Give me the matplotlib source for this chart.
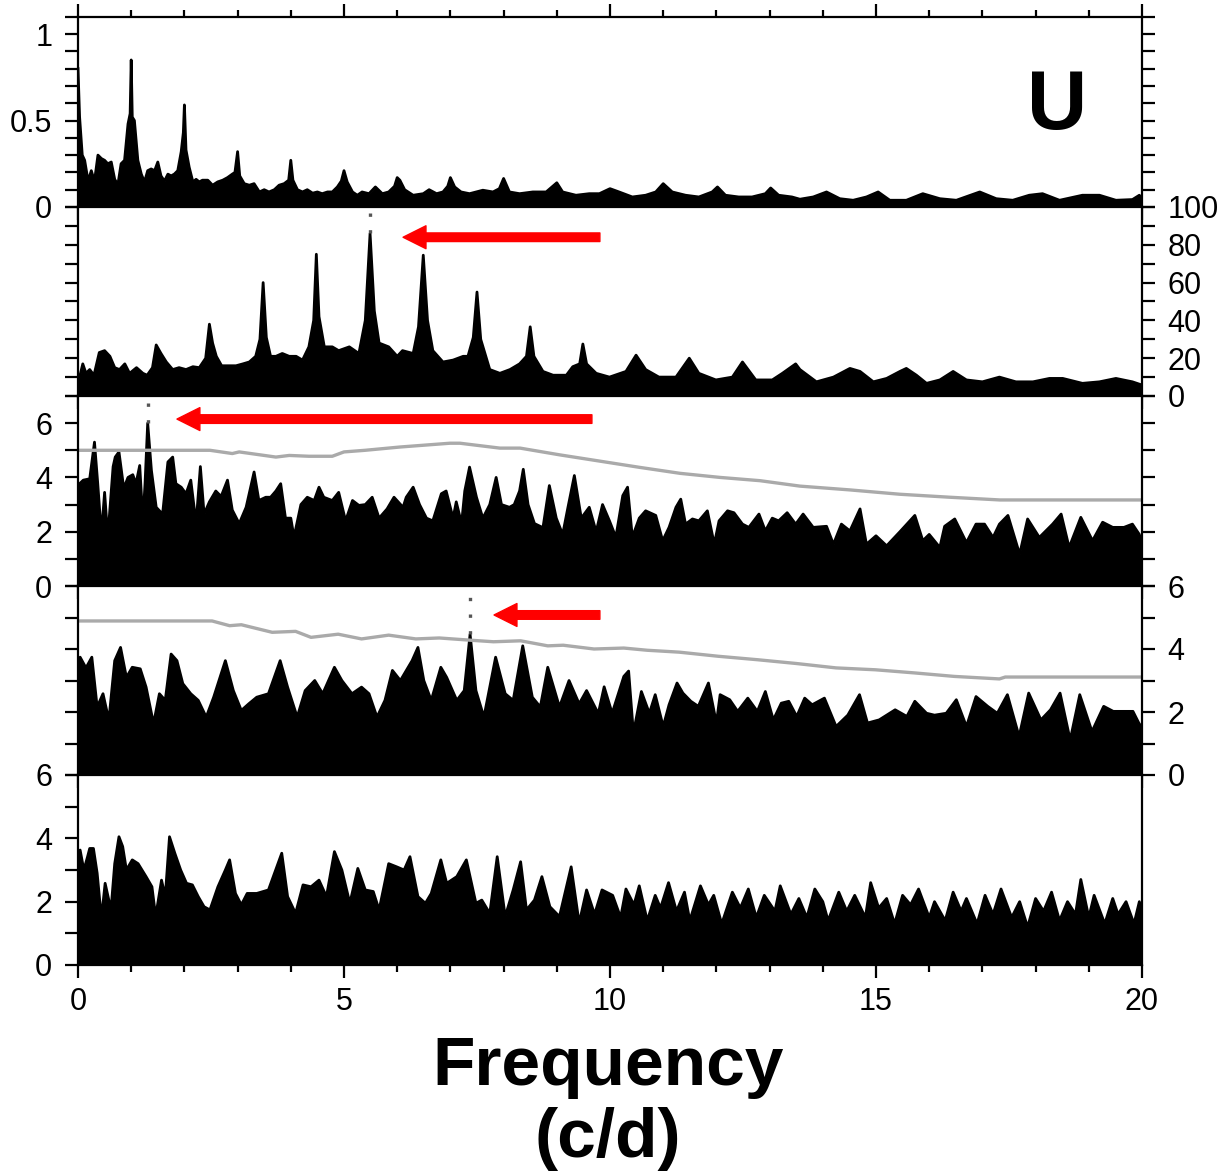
import numpy as np
import matplotlib
matplotlib.use('Agg')
import matplotlib.pyplot as plt
from matplotlib.ticker import MultipleLocator, FixedLocator, FixedFormatter

plt.rcParams['font.family'] = ['Liberation Sans', 'DejaVu Sans']

# ---- data (frequency in c/d, power) ----
p1_freq = [0.0, 0.03, 0.08, 0.125, 0.19, 0.25, 0.31, 0.375, 0.44, 0.5, 0.56, 0.625, 0.69, 0.75, 0.81, 0.875,
           0.94, 0.98, 1.0, 1.02, 1.06, 1.125, 1.19, 1.25, 1.31, 1.375, 1.44, 1.5, 1.56, 1.625, 1.69, 1.75,
           1.81, 1.875, 1.94, 1.98, 2.0, 2.03, 2.09, 2.16, 2.22, 2.28, 2.34, 2.44, 2.53, 2.625, 2.72, 2.81,
           2.9, 2.95, 3.0, 3.04, 3.125, 3.22, 3.31, 3.41, 3.5, 3.59, 3.69, 3.78, 3.875, 3.96, 4.0, 4.04,
           4.125, 4.22, 4.31, 4.41, 4.5, 4.59, 4.69, 4.78, 4.875, 4.95, 5.0, 5.06, 5.16, 5.25, 5.34, 5.47,
           5.59, 5.72, 5.84, 5.95, 6.0, 6.05, 6.14, 6.3, 6.49, 6.6, 6.74, 6.86, 6.95, 7.0, 7.08, 7.2,
           7.36, 7.61, 7.8, 7.92, 8.0, 8.11, 8.3, 8.55, 8.8, 9.0, 9.11, 9.36, 9.61, 9.8, 10.0, 10.17,
           10.42, 10.67, 10.86, 11.0, 11.17, 11.42, 11.67, 11.92, 12.02, 12.17, 12.42, 12.67, 12.92, 13.02,
           13.17, 13.42, 13.57, 13.82, 14.07, 14.32, 14.57, 14.82, 15.04, 15.26, 15.57, 15.88, 16.2, 16.51,
           16.95, 17.26, 17.57, 17.88, 18.13, 18.45, 18.88, 19.2, 19.51, 19.82, 19.95, 20.0]
p1_pow = [0.8, 0.52, 0.3, 0.27, 0.15, 0.21, 0.15, 0.3, 0.28, 0.27, 0.25, 0.26, 0.16, 0.13, 0.25, 0.27,
          0.48, 0.54, 0.85, 0.52, 0.5, 0.27, 0.19, 0.145, 0.21, 0.22, 0.21, 0.26, 0.18, 0.15, 0.19, 0.18,
          0.19, 0.21, 0.32, 0.43, 0.59, 0.33, 0.23, 0.145, 0.16, 0.145, 0.155, 0.155, 0.126, 0.145, 0.155, 0.17,
          0.19, 0.2, 0.32, 0.18, 0.135, 0.126, 0.135, 0.087, 0.1, 0.087, 0.1, 0.126, 0.135, 0.155, 0.27, 0.155,
          0.1, 0.087, 0.1, 0.08, 0.087, 0.077, 0.087, 0.087, 0.116, 0.15, 0.21, 0.145, 0.087, 0.068, 0.087, 0.077,
          0.116, 0.077, 0.087, 0.12, 0.17, 0.155, 0.1, 0.068, 0.077, 0.1, 0.077, 0.087, 0.12, 0.17, 0.116, 0.087,
          0.077, 0.097, 0.087, 0.106, 0.165, 0.087, 0.077, 0.087, 0.087, 0.14, 0.087, 0.068, 0.077, 0.077, 0.106, 0.087,
          0.058, 0.068, 0.087, 0.135, 0.087, 0.068, 0.058, 0.087, 0.116, 0.068, 0.058, 0.058, 0.077, 0.11,
          0.068, 0.058, 0.045, 0.058, 0.087, 0.048, 0.039, 0.058, 0.087, 0.039, 0.039, 0.077, 0.048, 0.039,
          0.087, 0.048, 0.039, 0.068, 0.077, 0.039, 0.068, 0.068, 0.039, 0.043, 0.068, 0.05]

p2_freq = [0.0, 0.03, 0.09, 0.15, 0.22, 0.3, 0.4, 0.5, 0.6, 0.69, 0.78, 0.88, 0.97, 1.1, 1.22, 1.3, 1.4,
           1.47, 1.56, 1.66, 1.78, 1.9, 2.03, 2.16, 2.28, 2.4, 2.47, 2.53, 2.6, 2.7, 2.84, 2.97, 3.1, 3.22,
           3.34, 3.42, 3.48, 3.54, 3.62, 3.72, 3.84, 3.97, 4.1, 4.22, 4.34, 4.43, 4.48, 4.53, 4.63, 4.78,
           4.9, 5.1, 5.28, 5.4, 5.49, 5.57, 5.66, 5.84, 6.0, 6.1, 6.3, 6.4, 6.49, 6.57, 6.67, 6.86, 7.05,
           7.24, 7.33, 7.43, 7.5, 7.57, 7.74, 7.93, 8.12, 8.3, 8.43, 8.5, 8.57, 8.74, 8.93, 9.18, 9.3, 9.43,
           9.49, 9.56, 9.74, 9.99, 10.3, 10.49, 10.67, 10.92, 11.24, 11.49, 11.67, 11.99, 12.3, 12.49, 12.74,
           13.05, 13.24, 13.49, 13.57, 13.88, 14.2, 14.51, 14.7, 14.95, 15.2, 15.45, 15.57, 15.76, 15.95,
           16.2, 16.45, 16.7, 17.0, 17.32, 17.63, 17.95, 18.26, 18.51, 18.88, 19.2, 19.51, 19.82, 20.0]
p2_pow = [5, 10, 17, 12, 14, 11, 23, 24, 21, 15, 14, 17, 12, 15, 12, 11, 15,
          27, 22.5, 18, 14, 15, 14, 15.5, 15, 20, 38, 28, 21, 16, 16, 16, 17, 18,
          21, 30, 60, 31, 21, 21, 22.5, 21, 21, 19, 26, 40, 75, 42, 26, 26,
          24, 26, 22.5, 40, 86, 45, 28, 26, 21, 24, 22.5, 36.6, 74.5, 40, 24, 18, 19,
          21, 21, 31, 55, 30, 14, 12, 14, 17, 21, 36.6, 21, 13, 11, 11, 15.5, 17,
          27.5, 17, 12, 10, 13, 21.6, 14, 10, 10, 20, 12, 8.5, 10, 18, 8.5,
          8.5, 12, 17, 14, 7.5, 10, 14.6, 13, 7.5, 9.3, 13, 14.6, 11, 6.7,
          8.5, 13, 8.5, 7.5, 10, 7.5, 7.5, 9.3, 9.3, 6.7, 7.5, 9.3, 7.5, 5.8]

p3_freq = [0.0, 0.03, 0.1, 0.22, 0.31, 0.37, 0.44, 0.5, 0.56, 0.66, 0.7, 0.77, 0.86, 0.94, 1.03, 1.09,
           1.16, 1.22, 1.26, 1.31, 1.38, 1.47, 1.59, 1.69, 1.78, 1.84, 1.94, 2.03, 2.12, 2.22, 2.3, 2.37,
           2.47, 2.59, 2.69, 2.81, 2.9, 3.03, 3.16, 3.31, 3.4, 3.53, 3.62, 3.72, 3.81, 3.9, 4.0, 4.06,
           4.19, 4.31, 4.44, 4.53, 4.62, 4.78, 4.9, 5.03, 5.16, 5.28, 5.4, 5.53, 5.66, 5.81, 5.94, 6.11,
           6.17, 6.3, 6.42, 6.55, 6.67, 6.83, 6.92, 7.05, 7.11, 7.21, 7.27, 7.36, 7.49, 7.61, 7.74, 7.86,
           7.96, 8.11, 8.2, 8.3, 8.37, 8.46, 8.58, 8.74, 8.86, 8.99, 9.11, 9.21, 9.33, 9.46, 9.61, 9.74,
           9.86, 9.99, 10.11, 10.24, 10.33, 10.42, 10.55, 10.67, 10.86, 10.99, 11.11, 11.24, 11.33, 11.42,
           11.55, 11.67, 11.83, 11.96, 12.05, 12.21, 12.33, 12.49, 12.61, 12.8, 12.92, 13.05, 13.17, 13.33,
           13.49, 13.63, 13.82, 14.07, 14.2, 14.35, 14.51, 14.7, 14.82, 15.0, 15.2, 15.45, 15.73, 15.88,
           16.0, 16.2, 16.29, 16.48, 16.7, 16.88, 17.04, 17.2, 17.32, 17.48, 17.7, 17.85, 18.07, 18.32,
           18.48, 18.63, 18.85, 19.07, 19.26, 19.45, 19.66, 19.82, 19.95, 20.0]
p3_pow = [3.0, 3.77, 3.9, 3.95, 5.3, 3.8, 1.9, 3.45, 1.8, 4.4, 4.75, 4.94, 3.6, 4.0, 4.1, 3.77,
          4.44, 2.4, 3.77, 6.0, 4.26, 2.9, 2.65, 4.57, 4.75, 3.77, 3.64, 3.4, 3.9, 2.3, 4.4, 2.65,
          3.1, 3.5, 3.3, 3.9, 2.8, 2.3, 2.9, 4.2, 3.15, 3.27, 3.27, 3.5, 3.77, 2.5, 2.5, 1.8,
          3.0, 3.27, 3.15, 3.64, 3.27, 3.15, 3.45, 2.4, 3.15, 2.97, 3.0, 3.27, 2.5, 2.84, 3.27, 2.9,
          3.27, 3.64, 3.0, 2.5, 2.4, 3.4, 3.5, 2.5, 3.1, 2.3, 3.5, 4.38, 3.27, 2.5, 3.0, 4.0,
          3.0, 2.9, 3.0, 3.5, 4.3, 3.0, 2.3, 2.15, 3.7, 2.5, 1.9, 2.9, 4.07, 2.5, 2.9, 2.0,
          3.0, 2.4, 1.8, 3.33, 3.64, 1.8, 2.5, 2.77, 2.6, 1.67, 2.16, 2.9, 3.2, 2.28,
          2.47, 2.4, 2.77, 1.54, 2.4, 2.77, 2.7, 2.28, 2.16, 2.65, 2.03, 2.5, 2.4, 2.7,
          2.28, 2.65, 2.16, 2.2, 1.54, 2.28, 2.03, 2.84, 1.54, 1.85, 1.48, 2.0, 2.6, 1.67,
          1.9, 1.42, 2.2, 2.47, 1.6, 2.28, 2.28, 1.79, 2.28, 2.6, 1.17, 2.47, 1.79, 2.28,
          2.65, 1.42, 2.53, 1.67, 2.35, 2.16, 2.16, 2.28, 1.9, 1.5]

p4_freq = [0.0, 0.04, 0.15, 0.26, 0.36, 0.47, 0.58, 0.69, 0.8, 0.91, 1.02, 1.17, 1.28, 1.42, 1.53, 1.64,
           1.75, 1.86, 1.97, 2.12, 2.26, 2.41, 2.55, 2.77, 2.92, 3.07, 3.21, 3.36, 3.58, 3.8, 3.94, 4.12,
           4.27, 4.45, 4.6, 4.82, 4.96, 5.15, 5.33, 5.47, 5.62, 5.77, 5.91, 6.06, 6.28, 6.39, 6.5, 6.64,
           6.82, 6.93, 7.12, 7.26, 7.37, 7.48, 7.63, 7.85, 8.03, 8.18, 8.36, 8.54, 8.69, 8.83, 9.05, 9.23,
           9.42, 9.56, 9.78, 9.89, 10.04, 10.26, 10.35, 10.44, 10.59, 10.74, 10.85, 11.0, 11.11, 11.26,
           11.37, 11.52, 11.66, 11.85, 12.0, 12.07, 12.25, 12.4, 12.59, 12.77, 12.92, 13.07, 13.22, 13.36,
           13.51, 13.66, 13.8, 14.03, 14.25, 14.47, 14.69, 14.84, 15.06, 15.36, 15.58, 15.73, 15.95, 16.1,
           16.32, 16.51, 16.7, 16.88, 17.1, 17.28, 17.47, 17.69, 17.87, 18.1, 18.28, 18.46, 18.65, 18.83,
           19.06, 19.28, 19.46, 19.68, 19.83, 19.94, 20.0]
p4_pow = [2.5, 3.74, 3.4, 3.74, 2.16, 2.58, 1.74, 3.63, 4.05, 3.1, 3.42, 3.37, 2.79, 1.63, 2.58, 2.37,
          3.84, 3.63, 2.9, 2.58, 2.37, 1.84, 2.47, 3.63, 2.68, 2.05, 2.26, 2.47, 2.58, 3.63, 2.79, 1.84,
          2.68, 3.0, 2.58, 3.42, 3.0, 2.58, 2.79, 2.58, 1.84, 2.37, 3.32, 3.0, 3.63, 4.05, 3.0, 2.37,
          3.42, 3.1, 2.37, 2.68, 4.47, 2.68, 1.84, 3.74, 2.58, 2.37, 4.1, 2.47, 2.16, 3.42, 2.16, 3.0,
          2.26, 2.68, 1.95, 2.8, 1.96, 3.13, 3.3, 1.33, 2.65, 1.96, 2.55, 1.54, 2.23, 2.92,
          2.6, 2.34, 2.18, 2.92, 1.65, 2.55, 2.39, 2.02, 2.44, 2.02, 2.65, 1.75, 2.28, 2.34,
          1.86, 2.44, 2.23, 2.44, 1.54, 1.9, 2.55, 1.65, 1.75, 2.07, 1.86, 2.34, 1.96, 1.9,
          1.96, 2.39, 1.54, 2.49, 2.18, 1.96, 2.55, 1.22, 2.6, 1.75, 2.07, 2.6, 1.11, 2.55,
          1.38, 2.18, 2.02, 2.02, 2.02, 1.65, 1.5]

p5_freq = [0.0, 0.04, 0.11, 0.18, 0.22, 0.29, 0.36, 0.44, 0.51, 0.62, 0.69, 0.77, 0.84, 0.91, 1.02, 1.13,
           1.28, 1.39, 1.46, 1.57, 1.64, 1.72, 1.82, 1.93, 2.04, 2.15, 2.26, 2.37, 2.48, 2.63, 2.77, 2.85,
           2.96, 3.07, 3.18, 3.36, 3.58, 3.76, 3.83, 3.94, 4.09, 4.23, 4.38, 4.53, 4.67, 4.82, 4.96, 5.11,
           5.26, 5.4, 5.55, 5.66, 5.84, 5.99, 6.13, 6.24, 6.39, 6.53, 6.64, 6.82, 6.93, 7.12, 7.3, 7.48,
           7.59, 7.74, 7.88, 8.03, 8.18, 8.32, 8.43, 8.58, 8.72, 8.87, 9.05, 9.27, 9.42, 9.56, 9.71, 9.85,
           10.05, 10.2, 10.3, 10.45, 10.55, 10.7, 10.85, 10.95, 11.1, 11.25, 11.4, 11.5, 11.7, 11.85, 11.95,
           12.1, 12.3, 12.45, 12.6, 12.75, 12.9, 13.1, 13.2, 13.4, 13.55, 13.7, 13.85, 14.0, 14.1, 14.3,
           14.45, 14.6, 14.8, 14.9, 15.05, 15.2, 15.35, 15.5, 15.65, 15.8, 16.0, 16.1, 16.3, 16.45, 16.6,
           16.7, 16.9, 17.05, 17.2, 17.35, 17.55, 17.7, 17.85, 18.0, 18.15, 18.3, 18.45, 18.6, 18.75, 18.85,
           19.0, 19.1, 19.3, 19.45, 19.55, 19.7, 19.85, 19.95, 20.0]
p5_pow = [2.5, 3.63, 3.0, 3.42, 3.68, 3.68, 2.9, 1.47, 2.58, 1.74, 3.2, 4.05, 3.74, 3.0, 3.32, 3.2,
          2.79, 2.47, 1.53, 2.68, 2.16, 4.05, 3.53, 3.0, 2.58, 2.53, 2.16, 1.84, 1.74, 2.47, 3.0, 3.32,
          2.26, 1.9, 2.26, 2.26, 2.37, 3.2, 3.53, 2.16, 1.63, 2.53, 2.47, 2.68, 2.16, 3.58, 3.0, 1.95,
          3.05, 2.37, 2.32, 1.74, 3.2, 3.1, 3.0, 3.42, 2.16, 1.95, 2.26, 3.32, 2.58, 2.79, 3.32, 1.95,
          2.05, 1.63, 3.42, 1.53, 2.37, 3.26, 1.74, 2.05, 2.79, 1.84, 1.53, 3.1, 1.32, 2.37, 1.6, 2.37,
          2.2, 1.5, 2.4, 1.9, 2.5, 1.4, 2.2, 1.8, 2.6, 1.7, 2.3, 1.4, 2.5, 1.9, 2.2,
          1.3, 2.3, 1.8, 2.4, 1.5, 2.2, 1.7, 2.5, 1.6, 2.1, 1.5, 2.4, 2.0, 1.4, 2.3,
          1.7, 2.2, 1.5, 2.6, 1.8, 2.1, 1.3, 2.2, 1.9, 2.4, 1.5, 2.0, 1.4, 2.3, 1.7,
          2.1, 1.3, 2.2, 1.6, 2.4, 1.5, 2.0, 1.2, 2.1, 1.7, 2.3, 1.4, 2.0, 1.6, 2.7,
          1.5, 2.2, 1.3, 2.1, 1.6, 2.0, 1.3, 2.0, 1.7]

# significance levels (grey curves)
p3_sig_freq = [0, 2.48, 2.9, 3.03, 3.72, 3.97, 4.34, 4.78, 5.0, 5.4, 6.05, 6.99, 7.18, 7.93, 8.31, 9.06,
               9.81, 10.56, 11.32, 12.07, 12.82, 13.57, 14.51, 15.45, 16.39, 17.33, 20]
p3_sig = [5.0, 5.0, 4.88, 4.94, 4.75, 4.81, 4.78, 4.78, 4.94, 5.0, 5.12, 5.26, 5.26, 5.08, 5.08, 4.83,
          4.6, 4.37, 4.15, 4.0, 3.88, 3.68, 3.54, 3.38, 3.27, 3.17, 3.17]
p4_sig_freq = [0, 2.52, 2.85, 3.07, 3.65, 4.09, 4.38, 4.89, 5.33, 5.84, 6.35, 6.79, 7.37, 7.81, 8.32,
               8.83, 9.12, 9.7, 10.26, 10.7, 11.3, 12.03, 12.77, 13.5, 14.25, 14.99, 15.73, 16.47,
               17.32, 17.43, 20]
p4_sig = [4.89, 4.89, 4.74, 4.77, 4.53, 4.56, 4.37, 4.47, 4.32, 4.44, 4.32, 4.35, 4.28, 4.23, 4.26,
          4.1, 4.12, 4.0, 4.03, 3.96, 3.9, 3.77, 3.66, 3.54, 3.4, 3.34, 3.24, 3.13,
          3.05, 3.11, 3.11]

# marked peaks: (frequency, peak top, panel top) and arrows (tail, head, level)
marked_peaks = [(5.49, 86, 100), (1.31, 6.0, 7.0), (7.37, 4.47, 6.0)]
arrows = [(9.81, 6.11, 84), (9.66, 1.86, 6.15), (9.81, 7.82, 5.08)]

spectra = [(p1_freq, p1_pow), (p2_freq, p2_pow), (p3_freq, p3_pow), (p4_freq, p4_pow), (p5_freq, p5_pow)]
ylims = [1.1, 100, 7, 6, 6]

fig = plt.figure(figsize=(12.18, 11.72), dpi=100)
W, H = 1218.0, 1172.0
x0, x1 = 78 / W, 1142 / W
edges = [16.7, 207, 396, 586, 775, 965]
LBL = 22

axes = []
for i in range(5):
    top = 1 - edges[i] / H
    bot = 1 - edges[i + 1] / H
    ax = fig.add_axes([x0, bot, x1 - x0, top - bot])
    f, p = spectra[i]
    ax.fill_between(f, 0, p, color='black', lw=0)
    ax.plot(f, p, color='black', lw=2.0)
    ax.set_xlim(0, 20)
    ax.set_ylim(0, ylims[i])
    for s in ax.spines.values():
        s.set_linewidth(1.6)
    ax.xaxis.set_major_locator(MultipleLocator(5))
    ax.xaxis.set_minor_locator(MultipleLocator(1))
    ax.tick_params(axis='x', which='both', direction='out', bottom=True, top=(i == 0),
                   labelbottom=(i == 4), width=1.6, labelsize=LBL, pad=6)
    ax.tick_params(axis='x', which='major', length=9.5)
    ax.tick_params(axis='x', which='minor', length=5)
    ax.tick_params(axis='y', which='both', direction='out', length=9.5, width=1.6,
                   labelsize=LBL, pad=9, left=True, right=(i != 4))
    axes.append(ax)

# y axes
ax = axes[0]
ax.yaxis.set_major_locator(FixedLocator([0, 0.5, 1]))
ax.yaxis.set_major_formatter(FixedFormatter(['0', '0.5', '1']))
ax.yaxis.set_minor_locator(MultipleLocator(0.1))
ax.tick_params(axis='y', labelleft=True, labelright=False)

ax = axes[1]
ax.yaxis.set_major_locator(MultipleLocator(20))
ax.yaxis.set_minor_locator(MultipleLocator(10))
ax.tick_params(axis='y', labelleft=False, labelright=True)

for k in [2, 3, 4]:
    ax = axes[k]
    ax.yaxis.set_major_locator(MultipleLocator(2))
    ax.yaxis.set_minor_locator(MultipleLocator(1))
    ax.tick_params(axis='y', labelleft=(k != 3), labelright=(k == 3))

# significance curves
axes[2].plot(p3_sig_freq, p3_sig, color='#aaaaaa', lw=2.4)
axes[3].plot(p4_sig_freq, p4_sig, color='#aaaaaa', lw=2.4)

# dotted markers and red arrows
for ax, (fp, ylo, yhi), (xt, xh, ya) in zip(axes[1:4], marked_peaks, arrows):
    ax.plot([fp, fp], [ylo, yhi], color='#555555', lw=2.4, ls=(0, (1, 4)))
    ax.annotate('', xy=(xh, ya), xytext=(xt, ya),
                arrowprops=dict(arrowstyle='simple,head_length=1.65,head_width=1.65,tail_width=0.62',
                                color='red', shrinkA=0, shrinkB=0, mutation_scale=10))

axes[0].text(18.4, 0.448, 'U', fontsize=60, fontweight='bold', ha='center', va='baseline')

fig.text(608 / W, 1 - 1085 / H, 'Frequency', fontsize=50, fontweight='bold', ha='center', va='baseline')
fig.text(608 / W, 1 - 1157 / H, '(c/d)', fontsize=50, fontweight='bold', ha='center', va='baseline')

fig.savefig('out.png', dpi=100)
